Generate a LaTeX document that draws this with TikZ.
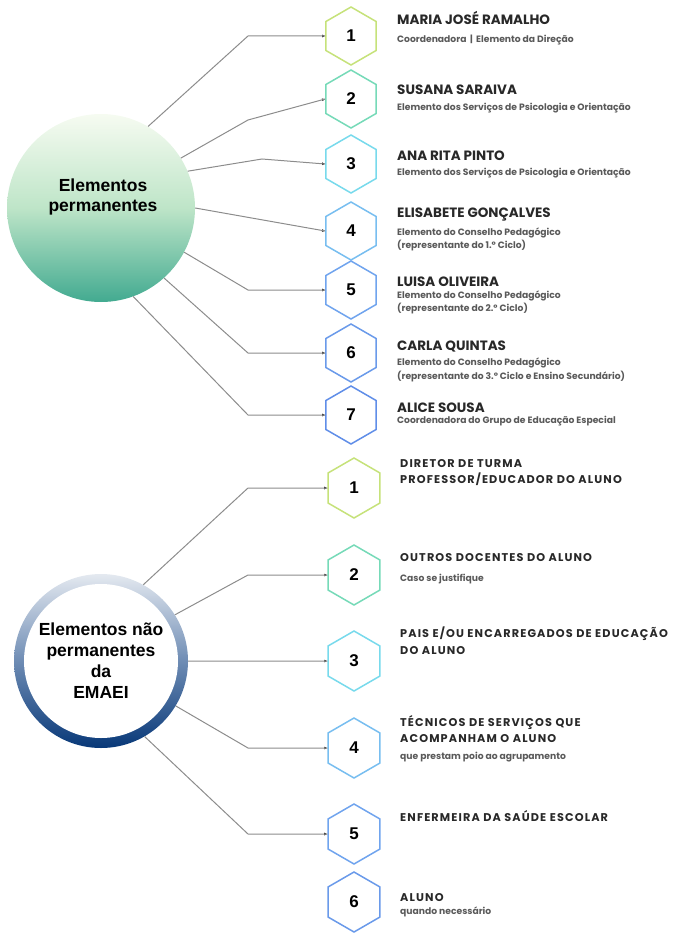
\documentclass[tikz,border=0pt]{standalone}
\usepackage{fontspec}
\setmainfont{Liberation Sans}
\newfontfamily\popfont{Poppins}
\newfontfamily\popwide{Poppins}[LetterSpace=10]
\usepackage{xcolor}
\definecolor{lineGray}{RGB}{140,140,140}
\definecolor{txtDark}{RGB}{40,40,40}
\definecolor{greenTop}{RGB}{246,251,241}
\definecolor{greenMid}{RGB}{190,229,200}
\definecolor{greenBot}{RGB}{66,170,144}
\definecolor{navyTop}{RGB}{228,233,240}
\definecolor{navyMid}{RGB}{110,140,180}
\definecolor{navyBot}{RGB}{8,56,120}
\definecolor{hexA}{RGB}{198,226,122}
\definecolor{hexB}{RGB}{118,218,184}
\definecolor{hexC}{RGB}{120,218,236}
\definecolor{hexD}{RGB}{120,190,240}
\definecolor{hexE}{RGB}{112,164,238}
\definecolor{hexF}{RGB}{106,154,234}
\definecolor{hexG}{RGB}{96,142,232}
\usetikzlibrary{positioning, calc, shapes.geometric, arrows.meta, decorations.markings}
\tikzstyle{Hex} = [
regular polygon,
regular polygon sides=6,
shape border rotate=30,
minimum size=58pt,
inner sep=0pt,
line width=1.5pt,
fill=white,
text=black,
font=\bfseries\fontsize{17}{17}\selectfont]
\tikzstyle{Link} = [
line width=1pt,
draw=lineGray,
decoration={
markings,
mark=at position 0.9999 with {
\arrow[txtDark]{Latex[length=3pt, width=3pt]}}},
preaction = {decorate}]
\tikzstyle{Name} = [anchor=base west, inner sep=0pt, text=txtDark,
font=\popfont\bfseries\fontsize{13.5}{15}\selectfont]
\tikzstyle{Sub} = [anchor=base west, inner sep=0pt, text=black!65,
font=\popfont\bfseries\fontsize{9.2}{10}\selectfont]
\tikzstyle{Caps} = [anchor=base west, inner sep=0pt, text=txtDark,
font=\popwide\bfseries\fontsize{11.25}{13}\selectfont]
\tikzstyle{Title} = [align=center, inner sep=0pt, text=black,
font=\bfseries\fontsize{17.5}{20}\selectfont]

\begin{document}
\begin{tikzpicture}[x=1pt, y=-1pt]
    \useasboundingbox (0,0) rectangle (672,934);
    \coordinate (bx) at (248,0);

    % permanent members
    \node [circle, minimum size=188pt, top color=greenTop, bottom color=greenBot,
           middle color=greenMid] (pc) at (101,208) {};
    \node [Title] (pct) at (103,197) {Elementos\\permanentes};

    \node [Hex, draw=hexA] (h1) at (351,36) {1};
    \node [Hex, draw=hexB] (h2) at (351,99) {2};
    \node [Hex, draw=hexC] (h3) at (351,164) {3};
    \node [Hex, draw=hexD] (h4) at (351,231) {4};
    \node [Hex, draw=hexE] (h5) at (351,290) {5};
    \node [Hex, draw=hexF] (h6) at (351,353) {6};
    \node [Hex, draw=hexG] (h7) at (351,415) {7};

    \draw[Link] (pc.60) -- (bx |- h1) -- (h1.west);
    \draw[Link] (pc.32) -- (248,120) -- (h2.west);
    \draw[Link] (pc.23) -- (262,159) -- (h3.west);
    \draw[Link] (pc.0) -- (h4.west);
    \draw[Link] (pc.-28) -- (bx |- h5) -- (h5.west);
    \draw[Link] (pc.-48) -- (bx |- h6) -- (h6.west);
    \draw[Link] (pc.-70) -- (bx |- h7) -- (h7.west);

    \node [Name] (n1) at (397,25) {MARIA JOSÉ RAMALHO};
    \node [Sub] (s1) at (397,43) {Coordenadora \,|\, Elemento da Direção};
    \node [Name] (n2) at (397,95) {SUSANA SARAIVA};
    \node [Sub] (s2) at (397,110) {Elemento dos Serviços de Psicologia e Orientação};
    \node [Name] (n3) at (397,160) {ANA RITA PINTO};
    \node [Sub] (s3) at (397,175) {Elemento dos Serviços de Psicologia e Orientação};
    \node [Name] (n4) at (397,217) {ELISABETE GONÇALVES};
    \node [Sub] (s4a) at (397,235) {Elemento do Conselho Pedagógico};
    \node [Sub] (s4b) at (397,248) {(representante do 1.º Ciclo)};
    \node [Name] (n5) at (397,286) {LUISA OLIVEIRA};
    \node [Sub] (s5a) at (397,298) {Elemento do Conselho Pedagógico};
    \node [Sub] (s5b) at (397,311) {(representante do 2.º Ciclo)};
    \node [Name] (n6) at (397,350) {CARLA QUINTAS};
    \node [Sub] (s6a) at (397,365) {Elemento do Conselho Pedagógico};
    \node [Sub] (s6b) at (397,379) {(representante do 3.º Ciclo e Ensino Secundário)};
    \node [Name] (n7) at (397,412) {ALICE SOUSA};
    \node [Sub] (s7) at (397,423) {Coordenadora do Grupo de Educação Especial};

    % non-permanent members
    \node [circle, minimum size=174pt, top color=navyTop, bottom color=navyBot,
           middle color=navyMid] (np) at (101,661) {};
    \node [circle, minimum size=154pt, fill=white, Title,
           font=\bfseries\fontsize{17.5}{21}\selectfont] (npt) at (np)
          {Elementos não\\permanentes\\da\\EMAEI};

    \node [Hex, draw=hexA, minimum size=60pt] (q1) at (354,488) {1};
    \node [Hex, draw=hexB, minimum size=60pt] (q2) at (354,575) {2};
    \node [Hex, draw=hexC, minimum size=60pt] (q3) at (354,661) {3};
    \node [Hex, draw=hexD, minimum size=60pt] (q4) at (354,748) {4};
    \node [Hex, draw=hexE, minimum size=60pt] (q5) at (354,834) {5};
    \node [Hex, draw=hexF, minimum size=60pt] (q6) at (354,902) {6};

    \draw[Link] (np.61) -- (bx |- q1) -- (q1.west);
    \draw[Link] (np.32) -- (bx |- q2) -- (q2.west);
    \draw[Link] (np.0) -- (q3.west);
    \draw[Link] (np.-31) -- (bx |- q4) -- (q4.west);
    \draw[Link] (np.-60) -- (bx |- q5) -- (q5.west);

    \node [Caps] (c1a) at (400,467) {DIRETOR DE TURMA};
    \node [Caps] (c1b) at (400,483) {PROFESSOR/EDUCADOR DO ALUNO};
    \node [Caps] (c2) at (400,561) {OUTROS DOCENTES DO ALUNO};
    \node [Sub] (t2) at (400,581) {Caso se justifique};
    \node [Caps] (c3a) at (400,637) {PAIS E/OU ENCARREGADOS DE EDUCAÇÃO};
    \node [Caps] (c3b) at (400,654) {DO ALUNO};
    \node [Caps] (c4a) at (400,726) {TÉCNICOS DE SERVIÇOS QUE};
    \node [Caps] (c4b) at (400,742) {ACOMPANHAM O ALUNO};
    \node [Sub] (t4) at (400,759) {que prestam poio ao agrupamento};
    \node [Caps] (c5) at (400,821) {ENFERMEIRA DA SAÚDE ESCOLAR};
    \node [Caps] (c6) at (400,901) {ALUNO};
    \node [Sub] (t6) at (400,914) {quando necessário};
\end{tikzpicture}
\end{document}
